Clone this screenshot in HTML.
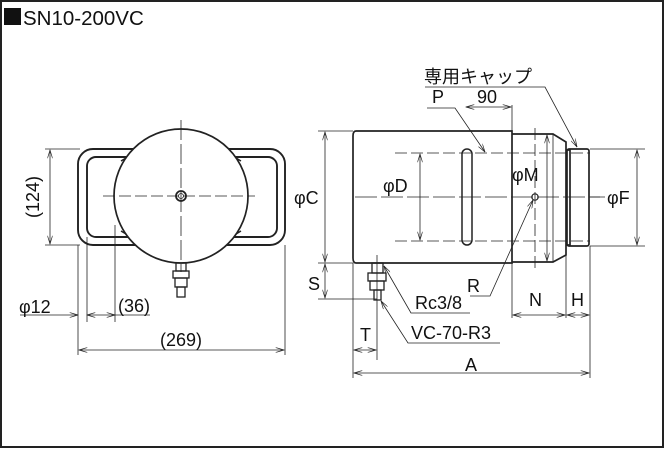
<!DOCTYPE html>
<html><head><meta charset="utf-8"><style>
body{margin:0;background:#fff}
svg{display:block}
text{font-family:"Liberation Sans","Noto Sans CJK JP",sans-serif;fill:#111}
</style></head><body>
<svg width="665" height="449" viewBox="0 0 665 449" xmlns="http://www.w3.org/2000/svg">
<defs>
<marker id="a" viewBox="0 0 10 6" refX="10" refY="3" markerWidth="9" markerHeight="5" orient="auto-start-reverse" markerUnits="userSpaceOnUse"><path d="M0,0 L10,3 L0,6" fill="none" stroke="#222" stroke-width="0.8"/></marker>
</defs>
<rect x="1" y="1" width="662" height="446" fill="none" stroke="#222" stroke-width="2"/>
<rect x="4" y="8" width="17" height="17" fill="#111"/>
<text x="23" y="25" font-size="20.5">SN10-200VC</text>

<g stroke="#222" fill="none" stroke-width="0.8">
<!-- left view -->
<rect x="78" y="149" width="207" height="96" rx="15" stroke-width="1.9"/>
<rect x="87" y="157" width="190" height="80" rx="9" stroke-width="1.9"/>
<circle cx="181" cy="196" r="67" fill="#fff" stroke-width="1.7"/>
<circle cx="181" cy="196" r="5" stroke-width="1.8"/>
<circle cx="181" cy="196" r="2.5"/>
<path d="M103 196 H255" stroke-dasharray="12 4"/>
<path d="M181 120 V272" stroke-dasharray="20 4"/>
<path d="M126 158 L121 161 M236 158 L241 161 M126 234 L121 231 M236 234 L241 231" stroke-width="1.4"/>
<g stroke-width="1.3"><rect x="176" y="263" width="10" height="8"/><rect x="173" y="271" width="16" height="7"/><rect x="175" y="278" width="12" height="9"/><rect x="177" y="287" width="8" height="10"/></g>
<path d="M45 149 H80 M45 245 H80"/>
<path d="M50 150 V244" marker-start="url(#a)" marker-end="url(#a)"/>
<path d="M78 245 V355 M87 237 V322 M115 225 V322 M285 245 V355"/>
<path d="M20 315 H78" marker-end="url(#a)"/>
<path d="M87 315 H115" marker-start="url(#a)" marker-end="url(#a)"/>
<path d="M115 315 H150"/>
<path d="M79 350 H284" marker-start="url(#a)" marker-end="url(#a)"/>

<!-- right view -->
<path d="M356 131 H512 V263 H356 Q353 263 353 258 V136 Q353 131 356 131Z" stroke-width="1.7"/>
<path d="M512 134 H553 L566 142 V255 L553 262 H512" stroke-width="1.7"/>
<path d="M553 134 V262"/>
<rect x="567" y="149" width="22" height="97" rx="2" stroke-width="1.7"/>
<path d="M566 150 H570 V245 H566" stroke-width="1.7"/>
<path d="M395 153 H590 M395 241 H590" stroke-dasharray="12 4"/>
<path d="M355 197 H600" stroke-dasharray="22 4"/>
<path d="M535 128 V268" stroke-dasharray="12 4"/>
<rect x="462" y="149" width="10" height="96" rx="5" stroke-width="1.5"/>
<circle cx="535" cy="197" r="3.2" stroke-width="1.2"/>
<path d="M318 131 H353 M318 263 H353"/>
<path d="M325 132 V262" marker-start="url(#a)" marker-end="url(#a)"/>
<path d="M420 154 V240" marker-start="url(#a)" marker-end="url(#a)"/>
<path d="M547 135 V261" marker-start="url(#a)" marker-end="url(#a)"/>
<path d="M590 149 H645 M590 246 H645 M590 197 H605"/>
<path d="M637 150 V245" marker-start="url(#a)" marker-end="url(#a)"/>
<g stroke-width="1.3"><rect x="372" y="263" width="11" height="10"/><rect x="368" y="273" width="18" height="8"/><rect x="370" y="281" width="14" height="9"/><rect x="374" y="290" width="7" height="10"/></g>
<path d="M377 255 V360"/>
<path d="M318 299 H377"/>
<path d="M325 264 V298" marker-start="url(#a)" marker-end="url(#a)"/>
<path d="M353 263 V378"/>
<path d="M354 350 H376" marker-start="url(#a)" marker-end="url(#a)"/>
<path d="M354 373 H589" marker-start="url(#a)" marker-end="url(#a)"/>
<path d="M512 263 V318 M566 255 V318 M590 246 V378"/>
<path d="M513 315 H565" marker-start="url(#a)" marker-end="url(#a)"/>
<path d="M567 315 H589" marker-start="url(#a)" marker-end="url(#a)"/>
<path d="M512 105 V131"/>
<path d="M466 107 H511" marker-start="url(#a)" marker-end="url(#a)"/>
<path d="M427 108 H455 L485 152" marker-end="url(#a)"/>
<path d="M425 87 H545 L577 147" marker-end="url(#a)"/>
<path d="M470 296 H490 L533 200" marker-end="url(#a)"/>
<path d="M470 313 H411 L384 266" marker-end="url(#a)"/>
<path d="M500 343 H408 L381 301" marker-end="url(#a)"/>
</g>

<g font-size="18">
<text x="39" y="197" text-anchor="middle" transform="rotate(-90 39 197)">(124)</text>
<text x="19" y="313">φ12</text>
<text x="118" y="312">(36)</text>
<text x="181" y="346" text-anchor="middle">(269)</text>
<text x="294" y="204">φC</text>
<text x="383" y="192">φD</text>
<text x="512" y="181">φM</text>
<text x="607" y="204">φF</text>
<text x="308" y="290">S</text>
<text x="360" y="341">T</text>
<text x="465" y="371">A</text>
<text x="529" y="306">N</text>
<text x="571" y="306">H</text>
<text x="432" y="103">P</text>
<text x="477" y="103">90</text>
<text x="424" y="83">専用キャップ</text>
<text x="467" y="292">R</text>
<text x="415" y="309">Rc3/8</text>
<text x="411" y="339">VC-70-R3</text>
</g>
</svg>
</body></html>
